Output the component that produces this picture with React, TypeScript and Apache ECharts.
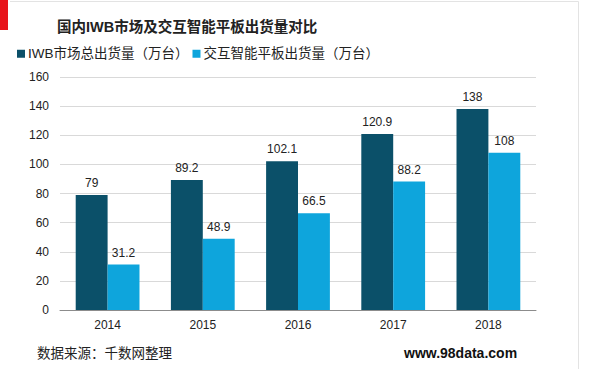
import React, { useEffect, useRef } from "react";
import * as echarts from "echarts";

const categories = ["2014", "2015", "2016", "2017", "2018"];
const iwbTotal = [79, 89.2, 102.1, 120.9, 138];
const interactivePanel = [31.2, 48.9, 66.5, 88.2, 108];
const seriesNames = ["IWB市场总出货量（万台）", "交互智能平板出货量（万台）"];
const titleText = "国内IWB市场及交互智能平板出货量对比";
const sourceText = "数据来源：千数网整理";
const siteText = "www.98data.com";

export default function App() {
  const ref = useRef<HTMLDivElement>(null);
  useEffect(() => {
    if (!ref.current) return;
    const chart = echarts.init(ref.current, null, { renderer: "svg" });
    const font = "'Liberation Sans', Arial, 'Noto Sans CJK SC', sans-serif";
    chart.setOption({
      animation: false,
      backgroundColor: "#ffffff",
      textStyle: { fontFamily: font },
      title: {
        text: titleText,
        left: 52,
        top: 15,
        textStyle: { fontSize: 14.5, fontWeight: "bold", color: "#222", fontFamily: font },
      },
      legend: {
        left: 12,
        top: 42,
        itemWidth: 8,
        itemHeight: 8,
        itemGap: 4,
        icon: "rect",
        textStyle: { fontSize: 13.5, color: "#222", fontFamily: font, padding: [0, 0, 0, -2] },
        data: seriesNames,
      },
      grid: { left: 60, right: 64, top: 77, bottom: 59, containLabel: false },
      xAxis: {
        type: "category",
        data: categories,
        axisTick: { show: false },
        axisLine: { lineStyle: { color: "#8c8c8c" } },
        axisLabel: { fontSize: 12, color: "#222", margin: 9 },
      },
      yAxis: {
        type: "value",
        min: 0,
        max: 160,
        interval: 20,
        axisLine: { show: false },
        axisTick: { show: false },
        axisLabel: { fontSize: 12, color: "#222", margin: 11 },
        splitLine: { lineStyle: { color: "#d9d9d9", width: 1 } },
      },
      series: [
        {
          name: seriesNames[0],
          type: "bar",
          data: iwbTotal,
          barGap: "0%",
          barCategoryGap: "33%",
          itemStyle: { color: "#0b5069" },
          label: { show: true, position: "top", fontSize: 12, color: "#222", distance: 6 },
        },
        {
          name: seriesNames[1],
          type: "bar",
          data: interactivePanel,
          itemStyle: { color: "#0ea5dc" },
          label: { show: true, position: "top", fontSize: 12, color: "#222", distance: 6 },
        },
      ],
      graphic: [
        { type: "rect", left: 0, top: 0, shape: { width: 8, height: 30 }, style: { fill: "#e8141b" } },
        { type: "line", shape: { x1: 10, y1: 1.5, x2: 578.5, y2: 1.5 }, style: { stroke: "#e3e3e3", lineWidth: 1 } },
        { type: "line", shape: { x1: 578.5, y1: 1.5, x2: 578.5, y2: 369 }, style: { stroke: "#e3e3e3", lineWidth: 1 } },
        {
          type: "text",
          left: 37,
          top: 347,
          style: { text: sourceText, fontSize: 13.5, fill: "#222", fontFamily: font },
        },
        {
          type: "text",
          left: 404,
          top: 346,
          style: { text: siteText, fontSize: 14, fontWeight: "bold", fill: "#111", fontFamily: font },
        },
      ],
    });
    return () => chart.dispose();
  }, []);
  return <div ref={ref} style={{ width: 600, height: 369, position: "absolute", left: 0, top: 0 }} />;
}
